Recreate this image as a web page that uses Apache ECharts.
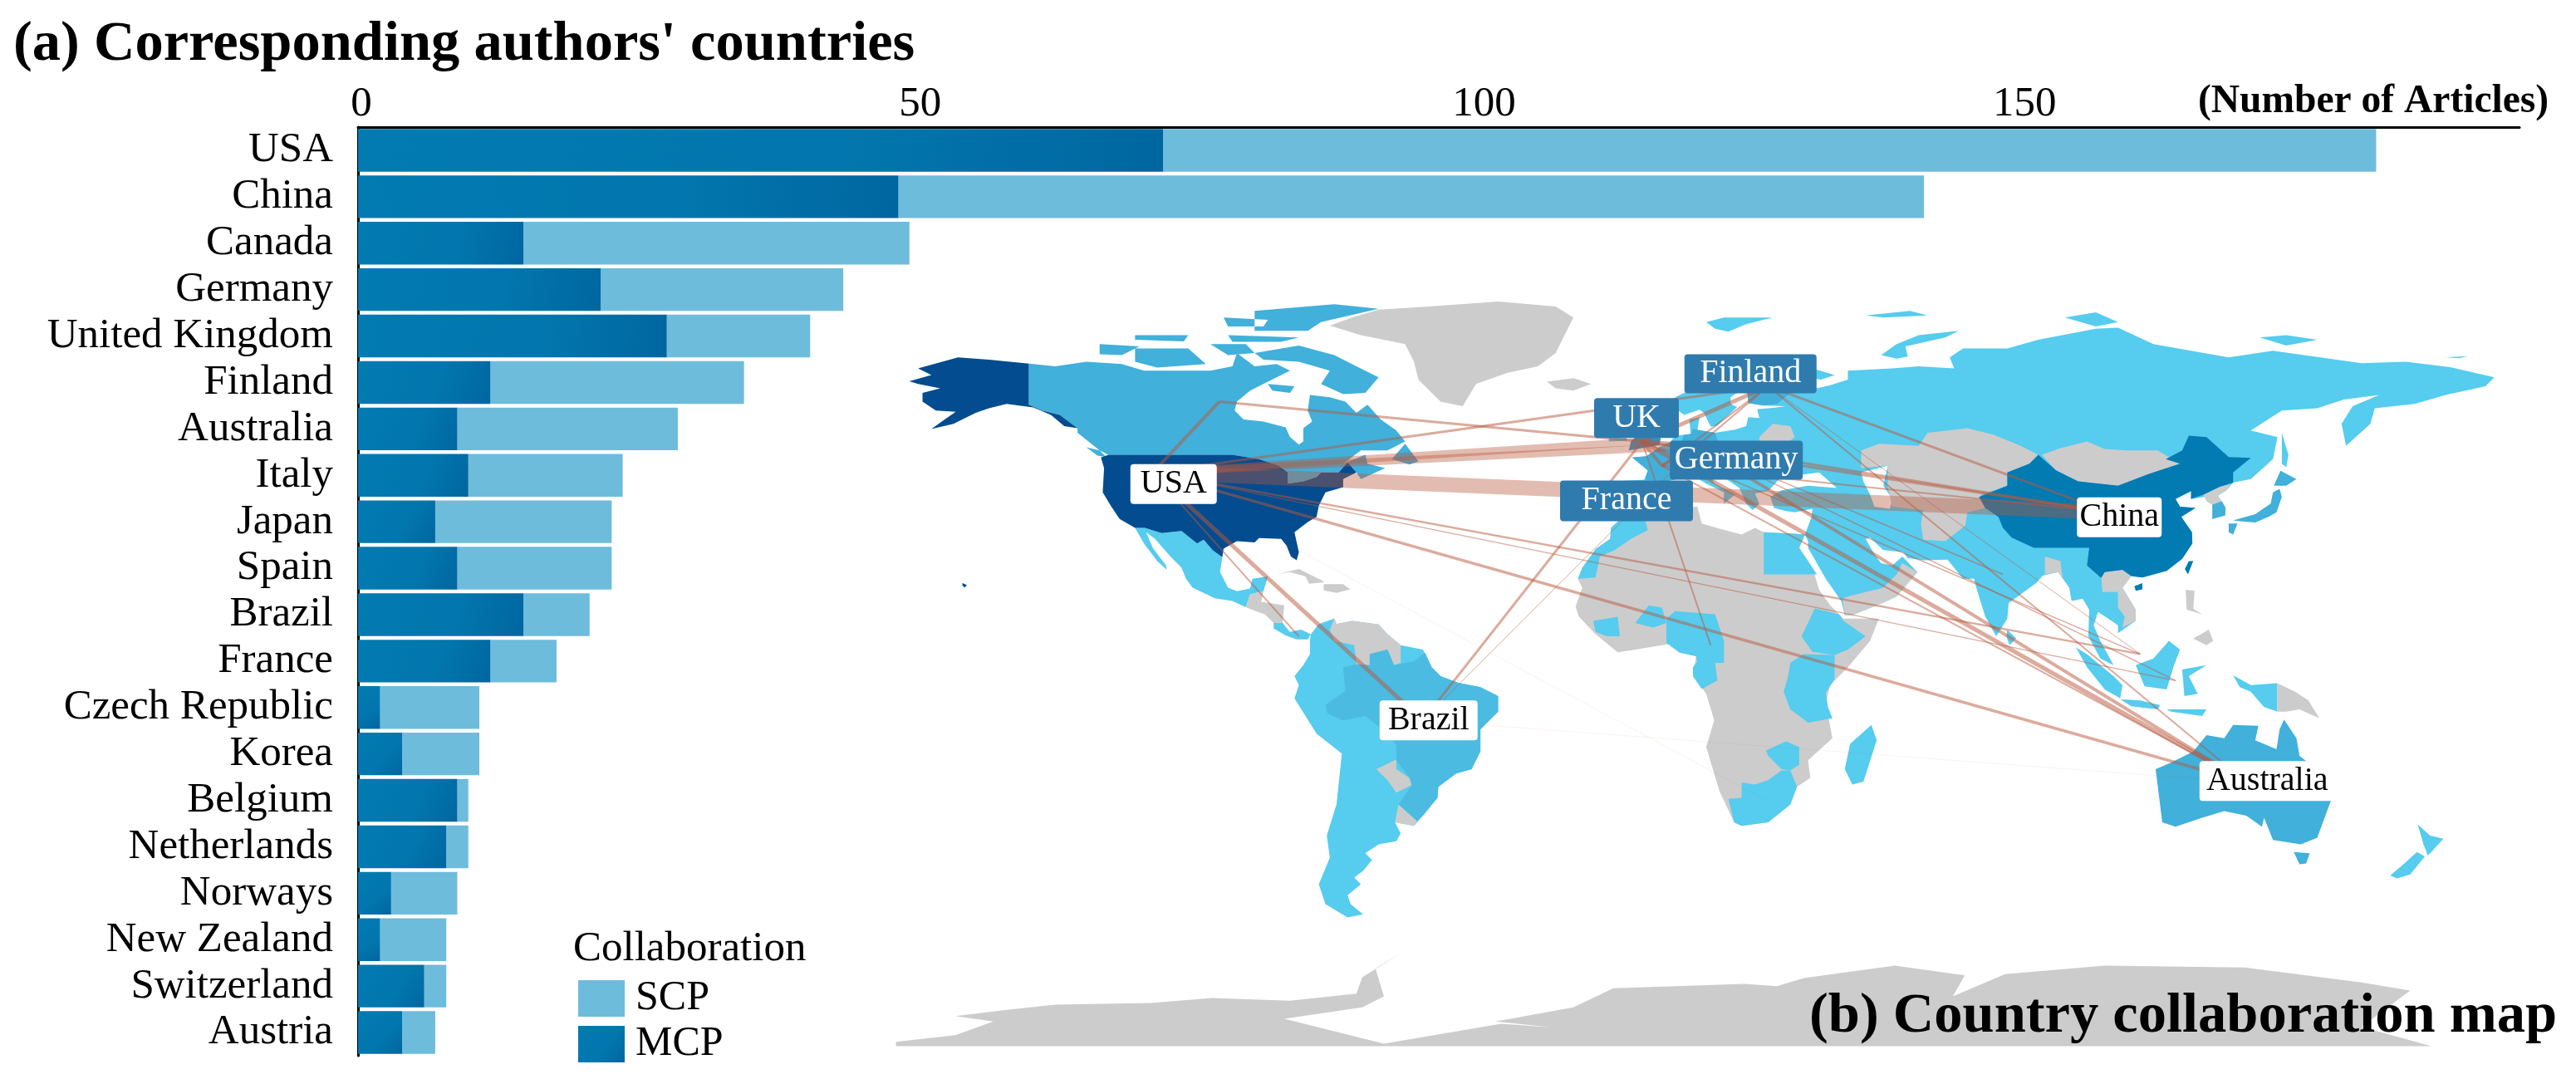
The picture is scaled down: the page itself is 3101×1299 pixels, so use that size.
<!DOCTYPE html>
<html><head><meta charset="utf-8">
<style>html,body{margin:0;padding:0;background:#fff}#c{width:3101px;height:1299px}</style>
<script src="https://cdn.jsdelivr.net/npm/echarts@6/dist/echarts.min.js"></script>
</head><body><div id="c"></div>
<script>
const countries=['USA','China','Canada','Germany','United Kingdom','Finland','Australia','Italy','Japan','Spain','Brazil','France','Czech Republic','Korea','Belgium','Netherlands','Norways','New Zealand','Switzerland','Austria'];
const mcpValues=[73,49,15,22,28,12,9,10,7,9,15,12,2,4,9,8,3,2,6,4];
const scpValues=[110,93,35,22,13,23,20,14,16,14,6,6,9,7,1,2,6,6,2,3];
const xTicks=[0,50,100,150];
const xTickShift=[4,13,28,15];

/* map outlines in lon/lat; later entries paint over earlier ones */
const eurasia=[[-9,37],[-9.5,38.7],[-8.9,43],[-2,43.4],[-1.2,45.5],[-4.7,48.4],[-1.5,48.7],[1.5,50.8],[4,52],[5,53.3],[8.5,53.7],[8.2,57],[10.5,57.5],[10,54.5],[14,54],[18.5,54.7],[21,55.5],[21.5,57.5],[24,57.3],[23.5,59.3],[28,59.7],[30,60],[25,60.1],[21.5,60.7],[21.3,63],[25,65],[23,65.8],[21,64.5],[17.5,62],[17.5,60.5],[19,59.8],[16.5,57.5],[14.3,55.5],[13,55.4],[11.5,58.5],[10.5,59.2],[7,58],[5,59.5],[5,62],[10,64.5],[14,68],[19,70],[25.5,71],[31,70],[41,67],[38,66],[34.5,66.5],[37,64],[40,64.7],[44,66],[44,68],[54,68.5],[60,69],[68,68.5],[67,71],[70,73],[80,73],[87,75],[100,77.5],[105,77.7],[113,74],[130,71],[140,72.5],[160,69.7],[170,70],[180,68.8],[190,66.5],[188,64.5],[179,62.5],[172,60.5],[163,59.5],[162,56],[156.5,51],[155.5,56],[158,60],[164,62.5],[156,61.5],[150,59.5],[142,59],[135,54.5],[141,53],[140,48],[135,43.5],[131,42.7],[129.5,41],[127.5,39.7],[129.3,37],[129.2,35.3],[126.3,34.5],[126.5,37.5],[125,39.6],[121.5,39],[121.5,40.8],[118,39],[119,37.3],[122.5,37],[119.3,35],[121.7,31.5],[121.8,29],[119.5,25.5],[116,22.8],[110.5,21.3],[108,21.6],[106,19],[109,14],[109,11.5],[105,8.7],[105,10.5],[102.5,12.2],[100.5,13.5],[99.5,10.5],[101,7],[104,1.5],[101,3],[98.3,8],[98.5,14],[97,16.5],[94.5,16],[94,19],[91.5,22.5],[88,21.7],[86.5,20],[80.3,15.5],[80,12],[77.5,8],[75,12.5],[73,19],[72.5,21],[70,21],[68,23.5],[66.5,25.3],[61,25.2],[57.5,25.7],[56.5,27],[52,27.5],[49,30.3],[48,30],[50,26.5],[51.5,24.5],[54,24],[56.3,26],[59.7,22.5],[55,17],[52,15.6],[45,12.8],[43.3,12.7],[42.5,16],[39,21],[35,28],[35,29.5],[34.3,31],[35.8,35],[36,36.8],[32,36],[30,36.3],[27.3,37],[26.5,39.5],[29,41],[35,42],[41.5,41.5],[37.5,45],[33.5,44.5],[33,46],[30.7,46.3],[28,43],[26,40.8],[23,40.3],[24,38],[22.5,36.5],[21,38],[19.5,41.5],[13.7,45.5],[12.3,45],[14,42.5],[18.5,40],[16,38],[16,40.5],[12,42.5],[9,44.3],[3,43],[0,39.8],[-0.5,38],[-2,36.7],[-5.5,36],[-9,37]];
const usaMain=[[-124.7,48.4],[-123,49],[-95,49],[-89,48],[-84.5,46.5],[-82.5,45],[-82.5,42.5],[-79,43],[-76,44],[-75,45],[-71,45],[-69,47.3],[-67,45],[-70,43.5],[-70,41.7],[-74,40.5],[-75.5,37.5],[-76,35],[-78,33.8],[-81,31.5],[-80,27],[-80.5,25.2],[-81.8,26],[-82.8,28.5],[-84,30],[-89,30.2],[-90,29.2],[-94,29.5],[-97,27.8],[-97.3,25.9],[-99.5,27.5],[-101.5,29.8],[-103,29],[-106.5,31.8],[-111,31.3],[-114.8,32.5],[-117,32.5],[-120.5,34.5],[-122.5,37.5],[-124.3,40.5],[-124,46]];
const alaska=[[-141,69.6],[-141,60.3],[-138,59],[-134,58],[-130,55],[-133,55.5],[-136,58],[-140,59.7],[-146,60.5],[-150,59.5],[-153,58.5],[-158,56],[-163,54.8],[-160,57],[-157.5,58.7],[-162,59],[-165,61],[-165,63],[-161,64],[-166,65],[-168,65.6],[-163,67],[-166,68.5],[-157,71],[-150,70.5]];
const hawaii=[[-156,20],[-155,19.6],[-155.5,19],[-156,19.5]];
const canadaMain=[[-141,69.6],[-135,69],[-128,70],[-120,69.5],[-115,68],[-108,68],[-100,68],[-95,69],[-94,72],[-90,69],[-85,69.5],[-82,68],[-87,65.5],[-91,63.5],[-94,61],[-94.5,59],[-92.5,57],[-88,56.5],[-83,55.2],[-82,53],[-80,51.3],[-79,52],[-79,55],[-77,56.5],[-78,59],[-77.5,62.5],[-73,62],[-69.5,61],[-67,58.5],[-64.5,60.3],[-61.5,57],[-58,54.5],[-56,52],[-60,50],[-66,50],[-70,47],[-65,49],[-64.5,47],[-60.5,46],[-66,43.5],[-67,45],[-69,47.3],[-71,45],[-75,45],[-76,44],[-79,43],[-82.5,42.5],[-82.5,45],[-84.5,46.5],[-89,48],[-95,49],[-123,49],[-125,50],[-130,54],[-130,55],[-134,58],[-138,59],[-141,60.3]];
const canadaIslands=[
 [[-90,72],[-80,73.7],[-72,71.5],[-67,69],[-62,66.5],[-65,63],[-70,62.7],[-75,65],[-73,68],[-80,70],[-88,70.5]],
 [[-117,73],[-105,73],[-101,69.5],[-112,68.7],[-117,70]],
 [[-125,74],[-116,73.5],[-120,71.5],[-125,71.7]],
 [[-90,77],[-78,77],[-75,79],[-62,82],[-72,83],[-90,81.5]],
 [[-96,76],[-80,75.5],[-84,74.5],[-95,74.5]],
 [[-97,80],[-87,79.5],[-88,78],[-96,78]],
 [[-117,76],[-105,76],[-106,74.6],[-117,75]],
 [[-100,74],[-92,74],[-90,72],[-96,71.5]],
 [[-87,65],[-81,64.5],[-82,63],[-86,63.5]],
 [[-59,48],[-56,51.5],[-53,47.5],[-55,46.8]],
 [[-128,50.7],[-125,50],[-123.5,48.5],[-125.5,48.8]]];
const greenland=[[-73,78.2],[-68,80],[-62,81.8],[-52,82.4],[-35,83.6],[-22,82.5],[-18,80],[-20,76],[-22,72],[-26,69],[-33,67.5],[-40,65],[-43,60],[-48,61],[-53,66],[-54,70],[-56,74],[-66,76]];
const iceland=[[-24,65.5],[-18,66.3],[-14,65],[-18,63.5],[-22,64]];
const mexico=[[-117,32.5],[-114.8,32.5],[-111,31.3],[-106.5,31.8],[-103,29],[-101.5,29.8],[-99.5,27.5],[-97.3,25.9],[-97.8,22.5],[-96,19],[-94,18.2],[-91,18.8],[-90.5,21],[-87,21.5],[-88,18.2],[-91,17.5],[-92,14.6],[-95,16],[-99,16.6],[-104,19],[-105.5,21],[-106.5,23.5],[-109,26],[-112.5,30],[-114.5,31.5],[-113,28],[-110,24],[-109.8,23],[-112,25],[-115,29]];
const centralAm=[[-92,14.6],[-91,17.5],[-88,18.2],[-88.5,15.8],[-83.3,15],[-83.7,11],[-85.7,11],[-87.7,13],[-90,13.8]];
const panama=[[-85.7,11],[-83.7,11],[-82,9],[-79.5,9.5],[-77.3,8.5],[-78,7.3],[-80.5,7.3],[-83,8.2],[-85.7,9.8]];
const caribbean=[[[-85,22],[-80,23.2],[-75,20.7],[-74.2,20.2],[-77.7,19.9],[-78.5,21.5],[-82,22.5]],[[-74.4,19.8],[-70,19.8],[-68.4,18.6],[-71.5,17.8],[-74.4,18.4]]];
const southAm=[[-77.3,8.5],[-75.5,10.8],[-72,12],[-71.5,10.8],[-68,11.5],[-62,10.7],[-60,8.5],[-57,6],[-52,5],[-50,1],[-48,-1],[-44,-2.5],[-39,-3.5],[-35,-5.5],[-35,-9],[-39,-13],[-39,-18],[-41,-22],[-44.5,-23],[-48.5,-26],[-48.7,-28.5],[-52,-32.5],[-54,-34.8],[-58.3,-34],[-57,-36.5],[-58,-38.3],[-62,-39],[-65,-41],[-63.5,-42.5],[-65.5,-45],[-67.5,-46.5],[-66,-48],[-69,-50.5],[-68.3,-52.5],[-65.5,-54.8],[-69,-55.5],[-74,-52.5],[-75.5,-48],[-73,-42],[-73.7,-37],[-71.5,-30],[-70.3,-18.5],[-76,-14],[-81,-6],[-80,-3],[-81,-1],[-79,1.5],[-77.5,4],[-77.5,7]];
const brazilShape=[[-60,5],[-64,4],[-64,1.5],[-67,1.7],[-70,1],[-69.5,-4.3],[-74,-7.5],[-73.5,-9.5],[-70,-11],[-65,-10],[-60.5,-13.5],[-58,-16.5],[-58,-20],[-55,-24],[-54.5,-25.6],[-57.5,-30],[-53.3,-33.7],[-52,-32.5],[-48.7,-28.5],[-48.5,-26],[-44.5,-23],[-41,-22],[-39,-18],[-39,-13],[-35,-9],[-35,-5.5],[-39,-3.5],[-44,-2.5],[-48,-1],[-50,1],[-51.5,4.3],[-54,2.3],[-56,2],[-58.5,1.5]];
const venezuela=[[-72,12],[-71.5,10.8],[-68,11.5],[-62,10.7],[-60,8.5],[-57,6],[-57,2],[-58.5,1.5],[-60,5],[-64,4],[-64,1.5],[-67,1.7],[-67.5,6],[-72,7],[-73,9.5]];
const paraguay=[[-62.5,-22],[-58,-19.8],[-58,-22],[-55,-24],[-54.5,-25.6],[-58,-27.3],[-60,-24.5]];
const uruguay=[[-58.3,-34],[-57.5,-30],[-53.3,-33.7],[-54,-34.8]];
const africa=[[-6,35.8],[-2,35],[3,36.8],[10,37.3],[11,33.5],[15,32.3],[20,31],[23,32.5],[25,31.5],[32,31.2],[34.3,31],[33,28],[36,23.5],[37.5,18.5],[40,15],[43,12],[51,12],[49,7],[44,1],[40,-3],[39,-7],[40.5,-15],[35,-20],[35.5,-24],[32.5,-26],[31,-30],[26,-34],[20,-34.8],[18.3,-34],[15,-27],[12,-17],[13.8,-11],[12,-5],[9,-1],[9.7,3.5],[6,4.3],[4,6.3],[-4,5],[-8,4.4],[-13,8.5],[-16.8,12.5],[-17.5,14.7],[-16,19],[-17,21],[-13,27.7],[-9.7,30],[-9.5,32.5]];
const morocco=[[-6,35.8],[-2,35],[-1.2,32],[-5,30],[-8.7,27.5],[-12,26],[-13,21.3],[-17,21],[-16,23.5],[-13,27.7],[-9.7,30],[-9.5,32.5]];
const egypt=[[25,31.5],[32,31.2],[34.3,31],[33,28],[36,23.5],[37,22],[25,22]];
const guinea=[[-13.5,11.5],[-8,12.4],[-7.5,8],[-10.5,8],[-13,9]];
const burkina=[[-4,11],[-1,15],[2,14.5],[3,11],[0,10]];
const nigeria=[[3,12],[5,13.7],[14,13],[15,10],[16,7],[16,2],[10,2],[9.7,3.5],[6,4.3],[3,6.5]];
const gabon=[[9,1],[10,2.3],[14,2.2],[14.5,-2],[11,-3.9],[9,-1]];
const ethiopia=[[36.5,14.3],[42,13],[43,11.5],[48,8],[44,5],[41,3.8],[36,4.5],[33.5,8],[35,11]];
const eastAfrica=[[34,4],[41,3.8],[41,-1.7],[39,-4.7],[39.5,-8],[40.5,-10.5],[35,-11.5],[31,-8.5],[29.5,-4.5],[30.5,-1],[31,2]];
const zimbabwe=[[25.5,-17.8],[30,-15.7],[33,-17],[33,-21],[31,-22.3],[29,-22],[26,-19]];
const southAfrica=[[17,-28.7],[20,-28.5],[20,-25],[23,-25.5],[26,-24.5],[29,-22.3],[31,-22.3],[32.5,-26],[31,-30],[26,-34],[20,-34.8],[18.3,-34]];
const madagascar=[[49.3,-12],[50.5,-15.5],[47.5,-24.8],[45,-25.5],[43.3,-22],[44.5,-16.3]];
const caspian=[[47,45],[53,46.5],[52,42],[54,39],[53.5,36.8],[50,37.3],[49,40],[47.5,43]];
const centralAsia=[[47,50],[51,51.5],[60,51],[62,54],[71,55],[77,53.5],[83,51],[87,49],[85,47],[80,45],[80,42],[74,40],[75,37],[71,36],[70.5,33],[66,29.5],[61,29.8],[60.5,33.5],[61,36.5],[54,37.3],[53,42],[53,46.5],[47,46]];
const mongolia=[[87.8,49],[92,50.5],[98,52],[102,50.3],[107,50],[114,50],[119,47],[112,44.7],[105,42],[96,43],[91,45.5]];
const chinaMain=[[73.6,39.5],[80,42],[80,45],[85,47],[87,49],[91,45.5],[96,43],[105,42],[112,44.7],[119,47],[115.8,48],[119.5,50],[121,53.3],[125,53],[130,48.5],[135,48.3],[131,45],[131,42.7],[128,41.8],[124.3,40],[121.5,39],[121.5,40.8],[118,39],[119,37.3],[122.5,37],[119.3,35],[121.7,31.5],[121.8,29],[119.5,25.5],[116,22.8],[110.5,21.3],[108,21.6],[106,23],[102,22.5],[101.2,21.2],[98,24],[98.5,28],[92,28],[86,28],[81,30.3],[79,32.5],[78,35],[75,37]];
const taiwan=[[121,25],[122,25],[120.8,22],[120.1,23.2]];
const hainan=[[108.7,19.3],[110.5,20],[110.5,18.6],[109,18.3]];
const southKorea=[[126.3,34.5],[126.3,37.7],[128.5,38.5],[129.3,37],[129.2,35.3]];
const northKorea=[[124.3,40],[128,41.8],[130.5,42.4],[129.5,41],[127.5,39.7],[128.5,38.5],[126.3,37.7],[125,38.5]];
const japan=[[[131,34.2],[136,35.6],[139.5,38],[140,40.5],[141.5,41.3],[142,39.5],[140.8,36],[139,35],[136,33.7],[132.5,34]],[[130,33.5],[132,33.5],[131,31],[130,31.5]],[[140.2,42],[141.7,45.4],[145.3,43.5],[143,42]]];
const sakhalin=[[142,54],[143.5,49],[143,46.2],[142,47]];
const sriLanka=[[80,9.5],[82,7.5],[80.5,6],[79.8,8]];
const bangladesh=[[88.5,26],[92,25],[92.5,21],[91.5,22.5],[88.5,22]];
const indochina=[[102,22.5],[106,23],[108,21.6],[106,19],[109,14],[109,11.5],[106,10],[106.5,12.5],[105,14.5],[105,18],[101.5,18],[101.2,21.2]];
const yemenOman=[[43.3,12.7],[45,12.8],[52,15.6],[55,17],[59.7,22.5],[56.3,24.5],[55,22],[52,19],[48,18],[44,17],[42.7,16.5]];
const belarus=[[24,53],[27,56],[31,55.5],[32,53],[30,51.5],[24,51.5]];
const ukShape=[[-5.5,50],[1.5,51.2],[1.7,52.8],[-1.5,55],[-2,57.5],[-3.5,58.6],[-6,58],[-5,55],[-3,54],[-5,52]];
const ireland=[[-10,52],[-6,52.2],[-6,55],[-8.5,55],[-10,54]];
const finlandShape=[[21.5,60.7],[21.3,63],[25,65],[24,66],[24,68],[21,69],[27,70],[29,69],[29,66],[31,63],[28,60.5],[25,60.1]];
const germanyShape=[[6,51],[7,53.5],[8.5,53.7],[9,54.8],[14,54],[15,51],[12.5,50],[13.5,48.5],[10,47.5],[7.5,47.7],[6,49.5]];
const franceShape=[[-4.7,48.4],[-1.5,48.7],[1.5,50.8],[4,50],[8,49],[7.5,47.5],[6.5,46],[7.5,44],[3,43],[-1.8,43.4],[-1.2,45.5]];
const arcticIslands=[[[12,79],[16,80],[27,80],[21,78.5],[17,76.8],[14,77.5]],[[51.5,71.5],[55,70.7],[57.5,71.2],[57,73.5],[66,75.5],[69,77],[60,76],[55,74]],[[48,80.5],[58,81.5],[62,80.5],[52,80]],[[93,80],[100,81.2],[105,79],[100,78]],[[137,75.5],[143,76],[150,75],[143,73.7]],[[179,71],[184,71.3],[182,70.8]]];
const indonesia=[[[95.5,5.5],[98,4],[104,-1],[106,-3],[105.5,-6],[102,-4],[98,1]],[[105.5,-6.2],[110,-6.5],[114.5,-7.5],[114,-8.5],[108,-7.8]],[[109,1.5],[113,3],[116.5,7],[119,5],[117.5,1],[116,-4],[111,-3.3]],[[119.5,0.5],[125,1.5],[121,-1],[123,-5],[120,-5.5]],[[131,-0.8],[135,-3],[141,-2.6],[141,-9],[138,-8],[135,-4.5],[132.5,-3.5]],[[116,-8.5],[125,-8.5],[124,-10],[117,-9]]];
const papua=[[141,-2.6],[145,-4.5],[148,-6.5],[150.5,-10.5],[146,-8.5],[143,-9],[141,-9]];
const philippines=[[[120.3,18.5],[122.3,18.3],[122,14.2],[124,13],[120.5,14]],[[122,7.5],[125.5,9.5],[126.5,7],[125,6]]];
const newZealand=[[[172.7,-34.5],[175.5,-37],[178.5,-37.7],[175,-41.5],[174,-39]],[[172.5,-40.7],[174.3,-41.7],[171,-45.8],[168,-46.7],[166.5,-46],[170,-43]]];
const australiaMain=[[113.5,-22],[114,-26],[115,-34],[118,-35],[124,-33],[129,-31.5],[134,-32.5],[137.5,-35],[138,-33],[140,-38],[146.3,-39],[150,-37.5],[153.5,-28],[150.5,-22.5],[146,-19],[145.3,-15],[142.5,-10.8],[141.5,-13],[140.8,-17.5],[136,-15.5],[136.7,-12.2],[131,-12],[129,-15],[125,-14.3],[122,-18],[117,-20.5]];
const tasmania=[[144.7,-40.7],[148.3,-41],[147.5,-43.3],[146,-43.5]];
const antarctica=[[-171,-83.6],[-157.6,-82.1],[-149,-79],[-157.6,-77.8],[-145.6,-76.3],[-135,-75.2],[-113.5,-74.8],[-99.6,-73.7],[-82,-74.3],[-67,-72.7],[-65.7,-69],[-57,-63.6],[-62.7,-67],[-60.8,-73.3],[-65.7,-75.8],[-83.3,-78.4],[-60.8,-84],[-34.3,-79.5],[-23,-80.3],[-35.6,-79],[-18,-75.8],[-9,-71.5],[20.6,-70.5],[28,-71],[34,-69.2],[54.6,-66.4],[70.4,-68.6],[67.7,-73.3],[79.5,-68.3],[102,-66.4],[133.6,-66.8],[160,-70.2],[171,-72],[160,-80.2],[175.8,-84.6],[-171,-84.6]];

const mapRegions=[
 ['Antarctica',[antarctica]],['Greenland',[greenland]],['Iceland',[iceland]],
 ['Eurasia',[eurasia]],['Caspian',[caspian]],['CentralAsia',[centralAsia]],['Mongolia',[mongolia]],
 ['Arctic',arcticIslands],['Sakhalin',[sakhalin]],['SriLanka',[sriLanka]],['Ireland',[ireland]],
 ['Bangladesh',[bangladesh]],['Indochina',[indochina]],['YemenOman',[yemenOman]],['Belarus',[belarus]],
 ['Africa',[africa]],['Morocco',[morocco]],['Egypt',[egypt]],['Guinea',[guinea]],['Burkina',[burkina]],['Nigeria',[nigeria]],['Gabon',[gabon]],['Ethiopia',[ethiopia]],['EastAfrica',[eastAfrica]],['Zimbabwe',[zimbabwe]],['SouthAfrica',[southAfrica]],['Madagascar',[madagascar]],
 ['Mexico',[mexico]],['CentralAmerica',[centralAm]],['Panama',[panama]],['Caribbean',caribbean],
 ['SouthAmerica',[southAm]],['Venezuela',[venezuela]],['Paraguay',[paraguay]],['Uruguay',[uruguay]],['BrazilLand',[brazilShape]],
 ['NorthKorea',[northKorea]],['SouthKorea',[southKorea]],['Japan',japan],
 ['Indonesia',indonesia],['Papua',[papua]],['Philippines',philippines],['NewZealand',newZealand],
 ['AustraliaLand',[australiaMain,tasmania]],['CanadaLand',[canadaMain].concat(canadaIslands)],
 ['UKLand',[ukShape]],['FinlandLand',[finlandShape]],['GermanyLand',[germanyShape]],['FranceLand',[franceShape]],
 ['ChinaLand',[chinaMain,taiwan,hainan]],['USALand',[usaMain,alaska,hawaii]]
];
const grayRegions=['Antarctica','Greenland','Iceland','CentralAsia','Mongolia','Bangladesh','Indochina','YemenOman','Belarus','Africa','CentralAmerica','Caribbean','Venezuela','Paraguay','Uruguay','NorthKorea','Papua','Philippines'];
const midRegions=['SouthKorea','Japan','AustraliaLand','CanadaLand','FinlandLand','GermanyLand','FranceLand'];
const brazilRegions=['BrazilLand'];
const ukRegions=['UKLand'];
const chinaRegions=['ChinaLand'];
const usaRegions=['USALand'];
const seaRegions=['Caspian'];

const nodes={USA:[-113,45],Canada:[-98,61],UK:[-2.5,52],Germany:[10,51],France:[2,46.5],Finland:[26,64.5],China:[103,36],Brazil:[-52,-11],Australia:[134,-25],Malaysia:[110,4],Indonesia:[118,-2],Cameroon:[13,6],Panama:[-80,8],SouthAfrica:[25.5,-29],India:[79,22]};
const linkFrom=['USA','USA','USA','USA','USA','Canada','USA','USA','USA','USA','USA','USA','Brazil','Brazil','Brazil','UK','UK','Germany','France','Finland','UK','Germany','France','Finland','UK','Germany','France','UK','Germany','Germany','France','UK','UK','Finland'];
const linkTo=['China','UK','Germany','Finland','Canada','UK','Australia','Malaysia','Indonesia','Brazil','Panama','SouthAfrica','UK','Germany','Australia','Cameroon','Australia','Australia','Australia','Australia','China','China','China','China','Finland','Finland','Finland','Malaysia','Indonesia','India','Germany','France','Germany','Malaysia'];
const linkWeight=[18,9,9,3,4,3,3.5,2.5,1.2,5,2,0.5,3,1,0.5,2,5,4,2,2,3,3,2,3,5,2,2,1.5,1.5,1.5,4,4,5,1];

const mapLabels=['USA','UK','Finland','Germany','France','China','Brazil','Australia'];
const mapLabelPos=[[-108.3,42.4],[-3.75,57.3],[22,67.3],[18.8,47.8],[-6,38.6],[105.3,34.9],[-50.7,-11],[138.7,-24.7]];
const mapLabelBox=[[104,48],[102,48],[159,47],[160,47],[160,49],[102,48],[118,48],[163,48]];
const whiteLabels=['USA','China','Brazil','Australia'];

const serif='"Liberation Serif","Times New Roman",serif';
const features=mapRegions.map(([name,polys])=>({type:'Feature',properties:{name},geometry:{type:'MultiPolygon',coordinates:polys.map(p=>[p.concat([p[0]])])}}));
echarts.registerMap('world',{type:'FeatureCollection',features});
const paint=(names,c)=>names.map(name=>({name,itemStyle:{areaColor:c,borderWidth:0},emphasis:{disabled:true}}));
const chart=echarts.init(document.getElementById('c'),null,{renderer:'canvas'});
const text=(t,left,top,size,bold)=>({text:t,left,top,padding:0,textStyle:{fontFamily:serif,fontSize:size,fontWeight:bold?'bold':'normal',color:'#000',lineHeight:size}});
const tickRich={};
xTicks.forEach((t,i)=>{tickRich['t'+t]={fontFamily:serif,fontSize:51,color:'#000',padding:[0,0,0,2*xTickShift[i]]};});
chart.setOption({
 animation:false,backgroundColor:'#fff',
 title:[text("(a) Corresponding authors' countries",16,20,68.5,true),
        text('(Number of Articles)',2646,99,47.5,true),
        text('Collaboration',690,1117,51,false),
        text('(b) Country collaboration map',2178,1190,68.5,true)],
 legend:{left:696,top:1177,padding:0,orient:'vertical',icon:'rect',itemWidth:56,itemHeight:44,itemGap:5,data:['SCP','MCP'],textStyle:{fontFamily:serif,fontSize:50,color:'#000',padding:[0,0,0,8]},selectedMode:false},
 grid:{left:431,top:153,width:2602,height:1118,containLabel:false},
 xAxis:{type:'value',position:'top',min:0,max:196,interval:50,splitLine:{show:false},axisTick:{show:false},axisLine:{show:true,lineStyle:{color:'#000',width:3}},axisLabel:{showMaxLabel:false,margin:2,fontFamily:serif,fontSize:51,color:'#000',rich:tickRich,formatter:v=>xTicks.includes(v)?`{t${v}|${v}}`:''}},
 yAxis:{type:'category',inverse:true,data:countries,axisTick:{show:false},axisLine:{show:true,lineStyle:{color:'#000',width:3}},axisLabel:{interval:0,margin:30,fontFamily:serif,fontSize:51,color:'#000'}},
 geo:{map:'world',roam:false,silent:true,aspectScale:1,boundingCoords:[[-180,90],[195,-90]],left:1030.6,top:329,width:1998.75,height:959.4,z:1,
  itemStyle:{areaColor:'#56CCEE',borderWidth:0},emphasis:{disabled:true},
  regions:[...paint(grayRegions,'#CCCCCC'),...paint(midRegions,'#41B0DA'),...paint(brazilRegions,'#4BBBE2'),...paint(ukRegions,'#2F93C6'),...paint(chinaRegions,'#027AB2'),...paint(usaRegions,'#034C8F'),...paint(seaRegions,'#FFFFFF')]},
 series:[
  {name:'MCP',type:'bar',stack:'n',barWidth:'92%',data:mcpValues,z:3,itemStyle:{color:new echarts.graphic.LinearGradient(0,0,1,1,[{offset:0,color:'#027BB2'},{offset:0.6,color:'#0276AE'},{offset:1,color:'#0066A0'}])}},
  {name:'SCP',type:'bar',stack:'n',barWidth:'92%',data:scpValues,z:2,itemStyle:{color:'#6EBCDC'}},
  {type:'lines',coordinateSystem:'geo',z:4,silent:true,polyline:false,
   data:linkFrom.map((f,i)=>{const w=linkWeight[i];return {coords:[nodes[f],nodes[linkTo[i]]],lineStyle:{color:'#B9573C',width:w,curveness:0,opacity:w<1?0.14:(w>6?0.4:0.5)}};})},
  {type:'scatter',coordinateSystem:'geo',z:5,silent:true,symbolSize:0,itemStyle:{opacity:1},
   data:mapLabels.map((n,i)=>{const white=whiteLabels.includes(n);return {name:n,value:mapLabelPos[i],itemStyle:{opacity:1},label:{show:true,position:'inside',formatter:n,align:'center',verticalAlign:'middle',opacity:1,width:mapLabelBox[i][0],height:mapLabelBox[i][1],lineHeight:mapLabelBox[i][1],fontFamily:serif,fontSize:40,color:white?'#000':'#fff',backgroundColor:white?'#fff':'#2F7BAE',borderRadius:4}};})}
 ]
});
</script></body></html>
